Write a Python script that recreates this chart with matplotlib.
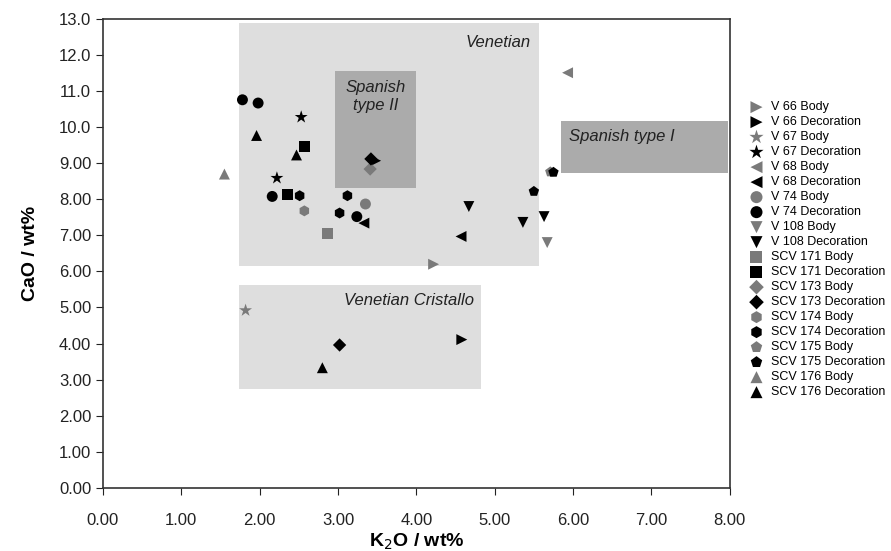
import matplotlib.pyplot as plt
from matplotlib.patches import Rectangle

plt.rcParams['font.family'] = ['Liberation Sans', 'DejaVu Sans']

# sample series: (label, marker, colour, x values, y values)
labels = ["V 66 Body", "V 66 Decoration", "V 67 Body", "V 67 Decoration",
          "V 68 Body", "V 68 Decoration", "V 74 Body", "V 74 Decoration",
          "V 108 Body", "V 108 Decoration", "SCV 171 Body", "SCV 171 Decoration",
          "SCV 173 Body", "SCV 173 Decoration", "SCV 174 Body", "SCV 174 Decoration",
          "SCV 175 Body", "SCV 175 Decoration", "SCV 176 Body", "SCV 176 Decoration"]
markers = [">", ">", "*", "*", "<", "<", "o", "o", "v", "v",
           "s", "s", "D", "D", "h", "h", "p", "p", "^", "^"]

k2o = [
    [4.22],
    [3.48, 4.58],
    [1.82],
    [2.53, 2.22],
    [5.93],
    [3.33, 4.57],
    [3.35],
    [1.78, 1.98, 2.16, 3.24],
    [5.67],
    [4.67, 5.63, 5.36],
    [2.86],
    [2.57, 2.35],
    [3.41],
    [3.42, 3.02],
    [2.57],
    [2.51, 3.12, 3.02],
    [5.71],
    [5.75, 5.50],
    [1.55],
    [1.96, 2.47, 2.80],
]
cao = [
    [6.20],
    [9.07, 4.11],
    [4.92],
    [10.28, 8.59],
    [11.51],
    [7.34, 6.97],
    [7.87],
    [10.76, 10.67, 8.08, 7.52],
    [6.80],
    [7.80, 7.52, 7.36],
    [7.06],
    [9.46, 8.14],
    [8.84],
    [9.12, 3.96],
    [7.68],
    [8.10, 8.10, 7.62],
    [8.76],
    [8.75, 8.22],
    [8.70],
    [9.77, 9.23, 3.33],
]

# reference fields: (name, x0, x1, y0, y1)
fields = [
    ("Venetian", 1.74, 5.56, 6.15, 12.89),
    ("Venetian Cristallo", 1.74, 4.83, 2.75, 5.63),
    ("Spanish\ntype II", 2.96, 3.99, 8.31, 11.56),
    ("Spanish type I", 5.84, 7.98, 8.72, 10.17),
]

xticks = [0, 1, 2, 3, 4, 5, 6, 7, 8]
yticks = list(range(14))
ytick_labels = ["0.00", "1.00", "2.00", "3.00", "4.00", "5.00", "6.00", "7.00",
                "8.00", "9.00", "10.0", "11.0", "12.0", "13.0"]

fig = plt.figure(figsize=(8.91, 5.51), dpi=100)
ax = fig.add_axes([0.1156, 0.1147, 0.7034, 0.8508])

face = {"Venetian": "#dedede", "Venetian Cristallo": "#dedede",
        "Spanish\ntype II": "#ababab", "Spanish type I": "#ababab"}
for name, x0, x1, y0, y1 in fields:
    ax.add_patch(Rectangle((x0, y0), x1 - x0, y1 - y0, facecolor=face[name],
                           edgecolor="none", zorder=1))

ax.text(5.46, 12.35, "Venetian", style="italic", fontsize=12, ha="right", va="center", color="#222222")
ax.text(4.73, 5.20, "Venetian Cristallo", style="italic", fontsize=12, ha="right", va="center", color="#222222")
ax.text(3.48, 10.85, "Spanish\ntype II", style="italic", fontsize=12, ha="center", va="center",
        color="#222222", linespacing=1.25)
ax.text(5.95, 9.75, "Spanish type I", style="italic", fontsize=12, ha="left", va="center", color="#222222")

for i, lab in enumerate(labels):
    col = "#7a7a7a" if "Body" in lab else "black"
    size = 95 if markers[i] == "*" else 62
    if markers[i] == "D":
        size = 46
    ax.scatter(k2o[i], cao[i], marker=markers[i], s=size, c=col, edgecolors="none",
               label=lab, zorder=3)

ax.set_xlim(0, 8)
ax.set_ylim(0, 13)
ax.set_xticks(xticks)
ax.set_xticklabels(["%.2f" % v for v in xticks])
ax.set_yticks(yticks)
ax.set_yticklabels(ytick_labels)
ax.tick_params(labelsize=12, direction="out", length=5, colors="#222222")
ax.tick_params(axis="x", pad=13)
for s in ax.spines.values():
    s.set_color("#333333")
    s.set_linewidth(1.2)

ax.set_xlabel("K$_2$O / wt%", fontsize=14, fontweight="bold", labelpad=3)
ax.set_ylabel("CaO / wt%", fontsize=14, fontweight="bold", labelpad=14)

fig.legend(loc="upper left", bbox_to_anchor=(0.835, 0.825), frameon=False, fontsize=9,
           labelspacing=0.24, handletextpad=0.6, borderaxespad=0, handlelength=1.2,
           markerscale=1.1)

fig.savefig("out.png", dpi=100)
